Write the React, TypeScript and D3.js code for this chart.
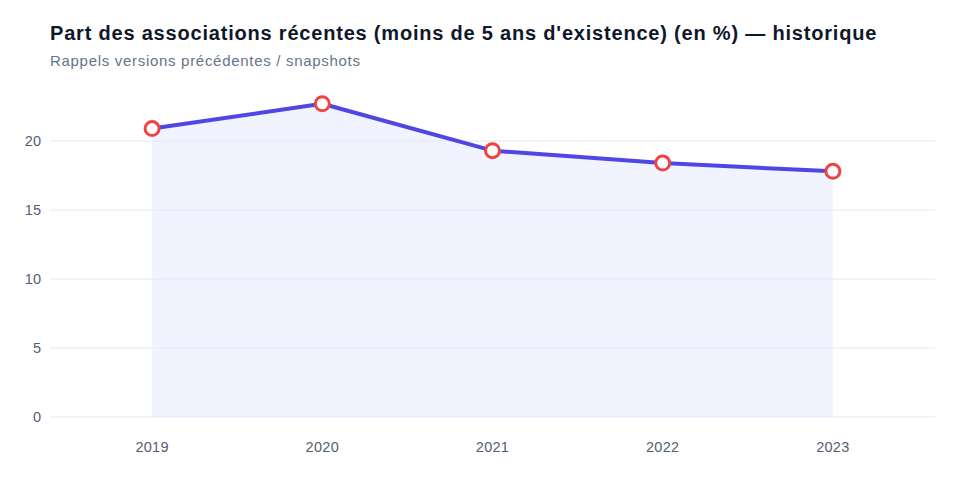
import React, { useEffect, useRef } from "react";
import * as d3 from "d3";

const years = ["2019", "2020", "2021", "2022", "2023"];
const shares = [20.9, 22.7, 19.3, 18.4, 17.8];
const yTicks = [0, 5, 10, 15, 20];

const title = "Part des associations récentes (moins de 5 ans d'existence) (en %) — historique";
const subtitle = "Rappels versions précédentes / snapshots";

const width = 960;
const height = 480;
const margin = { top: 90, right: 25, bottom: 63, left: 50 };

const App = () => {
  const svgRef = useRef<SVGSVGElement>(null);

  useEffect(() => {
    const svg = d3.select(svgRef.current);
    svg.selectAll("*").remove();

    const font = "'Liberation Sans', Arial, Helvetica, sans-serif";
    const data = years.map((y, i) => ({ year: y, value: shares[i] }));

    const x = d3
      .scalePoint()
      .domain(years)
      .range([margin.left, width - margin.right])
      .padding(0.6);

    const y = d3
      .scaleLinear()
      .domain([0, 24])
      .range([height - margin.bottom, height - margin.bottom - 24 * 13.8]);

    // title block
    svg
      .append("text")
      .attr("x", 50)
      .attr("y", 40)
      .attr("font-family", font)
      .attr("font-size", 20)
      .attr("font-weight", "bold")
      .attr("letter-spacing", 0.8)
      .attr("fill", "#0f172a")
      .text(title);

    svg
      .append("text")
      .attr("x", 50)
      .attr("y", 66)
      .attr("font-family", font)
      .attr("font-size", 15)
      .attr("letter-spacing", 0.7)
      .attr("fill", "#64748b")
      .text(subtitle);

    // horizontal grid
    svg
      .append("g")
      .selectAll("line")
      .data(yTicks)
      .enter()
      .append("line")
      .attr("x1", margin.left)
      .attr("x2", width - margin.right)
      .attr("y1", (d) => y(d))
      .attr("y2", (d) => y(d))
      .attr("stroke", "#eef1f7")
      .attr("stroke-width", 1.5);

    svg
      .append("g")
      .selectAll("text")
      .data(yTicks)
      .enter()
      .append("text")
      .attr("x", 41)
      .attr("y", (d) => y(d))
      .attr("dy", "0.35em")
      .attr("text-anchor", "end")
      .attr("font-family", font)
      .attr("font-size", 14.5)
      .attr("fill", "#526075")
      .text((d) => d);

    svg
      .append("g")
      .selectAll("text")
      .data(years)
      .enter()
      .append("text")
      .attr("x", (d) => x(d))
      .attr("y", 452)
      .attr("text-anchor", "middle")
      .attr("font-family", font)
      .attr("font-size", 14.5)
      .attr("letter-spacing", 0.3)
      .attr("fill", "#526075")
      .text((d) => d);

    const area = d3
      .area<{ year: string; value: number }>()
      .x((d) => x(d.year))
      .y0(y(0))
      .y1((d) => y(d.value));

    svg
      .append("path")
      .datum(data)
      .attr("d", area)
      .attr("fill", "#e0e7ff")
      .attr("fill-opacity", 0.45);

    const line = d3
      .line<{ year: string; value: number }>()
      .x((d) => x(d.year))
      .y((d) => y(d.value));

    svg
      .append("path")
      .datum(data)
      .attr("d", line)
      .attr("fill", "none")
      .attr("stroke", "#4f46e5")
      .attr("stroke-width", 4)
      .attr("stroke-linejoin", "round");

    svg
      .append("g")
      .selectAll("circle")
      .data(data)
      .enter()
      .append("circle")
      .attr("cx", (d) => x(d.year))
      .attr("cy", (d) => y(d.value))
      .attr("r", 7)
      .attr("fill", "#ffffff")
      .attr("stroke", "#ef4444")
      .attr("stroke-width", 3);
  }, []);

  return (
    <svg
      ref={svgRef}
      width={width}
      height={height}
      style={{ position: "absolute", top: 0, left: 0, display: "block", background: "#ffffff" }}
    ></svg>
  );
};

export default App;
